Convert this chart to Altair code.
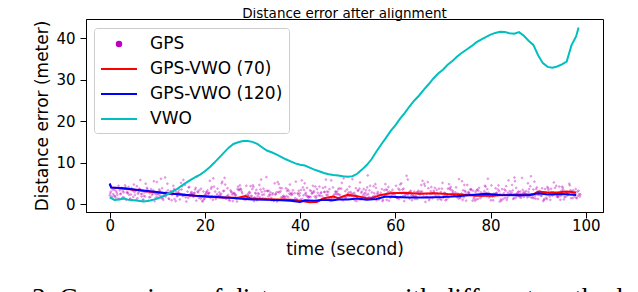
import altair as alt
import pandas as pd

# ---------------- data ----------------
series_names = ["GPS", "GPS-VWO (70)", "GPS-VWO (120)", "VWO"]
series_colors = ["#BF00BF", "#FF0000", "#0000FF", "#00BFBF"]
x_ticks = [0, 20, 40, 60, 80, 100]
y_ticks = [0, 10, 20, 30, 40]

vwo_t = [0, 1, 2, 3, 4, 5, 6, 7, 8, 9, 10, 11, 12, 13, 14, 15, 16, 17, 18, 19,
         20, 21, 22, 23, 24, 25, 26, 27, 28, 29, 30, 31, 32, 33, 34, 35, 36, 37, 38, 39,
         40, 41, 42, 43, 44, 45, 46, 47, 48, 49, 50, 51, 52, 53, 54, 55, 56, 57, 58, 59,
         60, 61, 62, 63, 64, 65, 66, 67, 68, 69, 70, 71, 72, 73, 74, 75, 76, 77, 78, 79,
         80, 81, 82, 83, 84, 85, 86, 87, 88, 89, 90, 91, 92, 93, 94, 95, 96, 97, 98, 98.5]
vwo_d = [1.6, 1.0, 1.1, 1.3, 1.0, 0.9, 0.8, 0.6, 0.7, 1.0, 1.3, 1.8, 2.3, 2.9, 3.5, 4.3, 5.1, 5.8, 6.5, 7.1,
         7.9, 8.9, 10.0, 11.2, 12.4, 13.6, 14.5, 14.9, 15.2, 15.2, 15.0, 14.5, 13.7, 12.9, 12.5, 12.0, 11.4, 10.8, 10.3, 9.8,
         9.5, 9.3, 8.8, 8.3, 7.9, 7.5, 7.2, 7.0, 6.9, 6.7, 6.6, 6.7, 7.3, 8.3, 9.4, 10.8, 12.6, 14.3, 15.9, 17.6,
         19.0, 20.6, 22.0, 23.6, 25.0, 26.2, 27.6, 28.9, 30.3, 31.5, 32.4, 33.6, 34.5, 35.6, 36.5, 37.3, 38.1, 39.0, 39.7, 40.3,
         40.9, 41.3, 41.6, 41.5, 41.2, 41.1, 41.5, 40.6, 39.4, 38.4, 35.9, 34.0, 33.1, 32.9, 33.2, 33.7, 34.4, 38.3, 40.5, 42.6]

blue_t = [0, 0.3, 3, 6, 9, 12, 15, 18, 21, 24, 27, 30, 33, 36, 38, 40, 41, 43, 45, 47,
          48, 50, 52, 54, 56, 58, 60, 63, 66, 70, 73, 76, 79, 82, 85, 88, 90, 92, 95, 98]
blue_d = [4.9, 4.0, 3.8, 3.4, 3.0, 2.6, 2.3, 2.0, 1.8, 1.6, 1.3, 1.1, 1.0, 0.9, 0.8, 0.5, 0.9, 0.8, 1.0, 0.9,
          1.1, 1.1, 1.3, 1.0, 1.2, 1.8, 1.7, 1.6, 1.6, 1.7, 1.9, 2.2, 2.5, 2.2, 2.1, 2.1, 2.6, 2.3, 2.4, 2.2]

red_t = [0, 0.3, 3, 6, 9, 12, 15, 18, 21, 24, 27, 28.5, 29.5, 32, 35, 38, 40, 42, 43.5, 45,
         47, 48, 50, 52, 54, 55, 57, 59, 62, 65, 68, 71, 74, 77, 80, 83, 86, 89, 90, 92, 94, 96, 98]
red_d = [4.9, 4.0, 3.7, 3.3, 2.9, 2.6, 2.3, 2.0, 1.7, 1.6, 1.5, 1.9, 1.4, 1.2, 1.1, 1.0, 0.8, 0.4, 0.5, 1.4,
         1.8, 1.4, 2.2, 1.9, 1.4, 1.4, 2.2, 2.6, 2.7, 2.5, 2.6, 2.4, 2.3, 2.0, 2.0, 2.2, 2.3, 2.3, 3.0, 2.8, 2.8, 3.0, 2.8]

gps_step = [i * 0.99 for i in range(100)]
gps_a = [2.1, 3.4, 1.2, 2.8, 4.1, 1.7, 2.5, 0.9, 3.6, 2.2, 5.3, 1.4, 2.9, 3.1, 0.7, 2.4, 4.6, 1.9, 2.7, 3.3,
         1.1, 2.6, 6.2, 2.0, 1.5, 3.8, 2.3, 0.6, 3.0, 4.4, 1.8, 2.5, 3.5, 1.3, 2.1, 5.0, 2.8, 1.6, 3.2, 0.8,
         2.4, 4.0, 1.9, 2.7, 3.6, 1.2, 2.2, 5.7, 2.9, 1.4, 3.1, 2.0, 0.9, 3.7, 2.5, 1.7, 4.3, 2.3, 1.0, 2.8,
         3.4, 1.5, 2.6, 6.8, 2.1, 1.8, 3.0, 0.5, 2.4, 3.9, 1.6, 2.7, 4.8, 2.2, 1.3, 3.3, 2.5, 0.8, 3.5, 2.0,
         1.9, 4.5, 2.6, 1.1, 3.2, 2.4, 5.5, 1.7, 2.9, 3.6, 1.4, 2.3, 0.7, 3.8, 2.1, 1.8, 4.2, 2.6, 3.1, 1.5]
gps_b = [3.0, 1.6, 2.4, 4.5, 1.1, 2.9, 3.7, 2.0, 0.8, 3.3, 2.6, 1.4, 4.9, 2.2, 1.9, 3.5, 0.6, 2.7, 3.9, 1.3,
         2.3, 5.6, 1.8, 2.8, 3.2, 1.0, 2.5, 4.2, 1.7, 2.1, 3.6, 0.9, 2.9, 6.5, 1.5, 2.4, 3.1, 1.2, 4.7, 2.6,
         2.0, 3.4, 1.6, 2.8, 0.7, 3.9, 2.2, 1.4, 3.0, 5.1, 1.8, 2.5, 3.8, 1.1, 2.7, 4.4, 2.0, 1.5, 3.3, 0.8,
         2.6, 3.7, 1.9, 5.9, 2.3, 1.2, 3.0, 2.4, 4.1, 1.7, 2.9, 0.9, 3.5, 2.1, 1.6, 4.6, 2.7, 1.3, 3.2, 2.5,
         6.1, 1.8, 2.2, 3.6, 1.0, 2.8, 3.9, 1.5, 2.4, 4.3, 2.0, 3.1, 1.2, 2.6, 5.2, 1.9, 3.4, 2.3, 1.4, 3.0]
gps_c = [1.5, 2.7, 3.9, 1.0, 2.3, 3.2, 5.8, 1.8, 2.6, 0.7, 3.5, 2.1, 1.3, 4.4, 2.8, 1.9, 3.0, 2.4, 6.6, 1.6,
         2.9, 3.7, 1.2, 2.2, 4.7, 0.8, 2.5, 3.4, 1.7, 2.0, 4.1, 2.6, 1.4, 3.1, 2.3, 0.6, 3.8, 1.9, 2.7, 5.4,
         1.1, 2.4, 3.3, 1.8, 4.2, 2.9, 1.5, 2.1, 3.6, 0.9, 2.5, 6.0, 1.7, 3.0, 2.2, 1.3, 3.9, 2.7, 4.8, 1.6,
         2.0, 3.4, 0.7, 2.8, 1.9, 3.2, 2.4, 5.3, 1.4, 2.6, 3.7, 1.1, 2.3, 4.0, 1.8, 2.9, 3.5, 0.8, 2.1, 3.1,
         1.6, 2.5, 4.5, 1.2, 2.7, 3.3, 1.9, 6.3, 2.2, 1.5, 3.6, 2.0, 2.8, 1.0, 3.9, 2.4, 1.7, 4.9, 2.6, 3.2]
gps_d = [2.4, 1.3, 3.1, 2.6, 0.9, 4.3, 1.8, 2.9, 3.6, 1.5, 2.0, 6.4, 2.5, 1.2, 3.4, 2.1, 4.0, 1.7, 2.8, 0.6,
         3.3, 1.9, 2.4, 5.0, 1.4, 3.0, 2.2, 3.7, 1.0, 2.7, 1.6, 4.6, 2.3, 3.2, 0.8, 2.9, 1.8, 3.5, 2.5, 1.1,
         5.7, 2.0, 3.1, 1.5, 2.6, 4.1, 0.7, 2.4, 3.8, 1.9, 2.8, 1.3, 3.3, 2.1, 6.9, 1.6, 2.5, 3.6, 1.0, 2.9,
         4.4, 1.7, 2.3, 3.0, 1.2, 2.7, 4.9, 0.9, 3.2, 2.0, 1.5, 3.7, 2.6, 1.8, 5.5, 2.2, 3.4, 1.1, 2.8, 4.2,
         1.9, 2.4, 0.6, 3.5, 2.1, 1.4, 3.0, 2.7, 5.0, 1.6, 2.3, 3.8, 1.2, 2.9, 4.4, 2.0, 1.7, 3.3, 2.5, 1.8]
gps_e = [2.6, 1.9, 3.3, 1.4, 2.2, 4.7, 2.8, 1.1, 3.0, 2.5, 1.7, 3.8, 2.3, 0.9, 2.9, 5.1, 1.6, 2.4, 3.5, 2.0,
         1.3, 2.7, 4.2, 1.8, 3.1, 2.2, 0.7, 3.6, 2.6, 1.5, 2.0, 3.4, 5.9, 1.2, 2.8, 2.3, 3.9, 1.7, 2.5, 1.0,
         3.2, 2.1, 1.6, 4.4, 2.7, 1.9, 3.0, 0.8, 2.4, 3.7, 1.4, 2.9, 2.2, 5.2, 1.8, 3.3, 2.6, 1.1, 2.0, 4.1,
         2.5, 1.5, 3.5, 2.3, 0.9, 2.8, 4.6, 1.7, 3.1, 2.1, 1.3, 2.6, 3.8, 2.0, 6.0, 1.6, 2.9, 3.2, 1.2, 2.4,
         3.6, 1.9, 2.7, 0.8, 4.3, 2.2, 1.5, 3.0, 2.5, 1.8, 5.4, 2.3, 1.0, 3.4, 2.8, 1.6, 3.9, 2.1, 2.6, 1.4]
gps_f = [1.8, 3.1, 2.5, 4.0, 1.3, 2.2, 3.6, 2.8, 1.6, 5.5, 2.3, 1.0, 3.3, 2.6, 1.9, 4.3, 2.1, 2.9, 0.8, 3.7,
         2.4, 1.5, 3.0, 2.0, 6.3, 1.7, 2.7, 3.4, 1.2, 2.5, 4.5, 1.9, 2.2, 3.2, 0.9, 2.8, 1.6, 3.8, 2.3, 1.4,
         2.6, 5.0, 1.8, 3.1, 2.1, 1.1, 2.9, 4.0, 2.4, 1.7, 3.5, 2.0, 0.7, 2.7, 3.3, 1.5, 4.8, 2.2, 1.9, 3.0,
         2.5, 1.2, 3.7, 2.3, 1.8, 2.9, 5.6, 1.6, 2.6, 3.4, 1.0, 2.1, 4.1, 2.8, 1.4, 3.2, 2.4, 1.7, 3.9, 2.0,
         2.7, 0.9, 3.5, 2.2, 1.5, 4.6, 2.5, 1.9, 3.1, 6.7, 1.3, 2.8, 3.6, 1.8, 2.3, 4.2, 1.1, 2.6, 3.3, 2.0]
gps_g = [3.5, 2.2, 1.4, 2.9, 3.8, 1.0, 2.4, 4.9, 1.7, 2.6, 3.2, 2.0, 1.2, 3.6, 2.7, 5.8, 1.5, 2.3, 3.0, 0.8,
         2.8, 4.1, 1.9, 2.5, 1.3, 3.3, 2.1, 4.5, 1.6, 2.9, 0.7, 2.4, 3.7, 1.8, 2.6, 5.3, 1.4, 3.1, 2.2, 1.0,
         3.4, 2.7, 1.7, 4.2, 2.0, 2.9, 3.6, 1.2, 2.3, 6.2, 1.9, 2.5, 3.2, 1.5, 4.0, 2.8, 0.9, 2.1, 3.5, 1.6,
         2.6, 4.7, 2.0, 1.3, 3.0, 2.4, 1.8, 3.8, 2.7, 1.1, 5.1, 2.2, 3.3, 1.7, 2.5, 0.8, 3.6, 2.9, 1.4, 4.4,
         2.1, 1.9, 3.1, 2.6, 5.7, 1.2, 2.8, 3.4, 1.6, 2.3, 4.0, 2.0, 1.5, 3.7, 2.5, 1.0, 2.9, 4.5, 1.8, 2.4]
gps_h = [2.0, 4.4, 1.7, 2.7, 3.2, 1.4, 2.5, 3.9, 0.9, 2.3, 6.1, 1.8, 2.9, 3.4, 1.1, 2.2, 4.1, 2.6, 1.5, 3.0,
         2.4, 1.0, 3.7, 5.4, 1.9, 2.8, 1.3, 3.5, 2.1, 4.3, 2.7, 1.6, 3.1, 2.3, 0.8, 4.8, 2.0, 1.7, 3.3, 2.6,
         1.2, 3.9, 2.5, 1.9, 2.8, 5.9, 1.4, 3.0, 2.2, 1.6, 4.2, 2.7, 1.1, 3.6, 2.4, 1.8, 2.9, 0.7, 3.4, 2.1,
         1.5, 5.0, 2.6, 3.2, 1.9, 2.3, 4.4, 1.3, 2.8, 3.7, 2.0, 1.6, 3.0, 2.5, 1.0, 4.6, 2.2, 3.3, 1.8, 2.7,
         0.9, 3.8, 2.4, 1.5, 3.1, 6.4, 2.0, 1.7, 2.9, 3.5, 1.2, 2.6, 4.1, 2.1, 1.9, 3.2, 2.7, 1.4, 3.6, 2.3]
gps_lists = [gps_a, gps_e, gps_b, gps_f, gps_c, gps_g, gps_d, gps_h]
gps_offsets = [0.0, 0.125, 0.25, 0.375, 0.5, 0.625, 0.75, 0.875]

title_text = "Distance error after alignment"
x_title = "time (second)"
y_title = "Distance error (meter)"
caption_text = "3. Comparison of distance error with different methods"

# ---------------- tables ----------------
gps_rows = []
for off, vals in zip(gps_offsets, gps_lists):
    for t, d in zip(gps_step, vals):
        gps_rows.append({"t": t + off, "d": d, "series": "GPS"})
gps_df = pd.DataFrame(gps_rows)
red_df = pd.DataFrame({"t": red_t, "d": red_d, "series": "GPS-VWO (70)"})
blue_df = pd.DataFrame({"t": blue_t, "d": blue_d, "series": "GPS-VWO (120)"})
vwo_df = pd.DataFrame({"t": vwo_t, "d": vwo_d, "series": "VWO"})

FONT = "DejaVu Sans"
DOT = "M0.25,0A0.25,0.25,0,1,1,-0.25,0A0.25,0.25,0,1,1,0.25,0ZM-0.25,0H0.25M0,-0.25V0.25"
LINE = "M-2,0H2"
series_shapes = [DOT, LINE, LINE, LINE]

xs = alt.Scale(domain=[-4.98, 103.63], nice=False, zero=False)
ys = alt.Scale(domain=[-1.93, 44.66], nice=False, zero=False)
cs = alt.Scale(domain=series_names, range=series_colors)
ss = alt.Scale(domain=series_names, range=series_shapes)

x_axis = alt.Axis(values=x_ticks, title=x_title, labelPadding=0, titlePadding=8)
y_axis = alt.Axis(values=y_ticks, title=y_title, labelPadding=5, titlePadding=4)

legend = alt.Legend(
    title=None, orient="none", legendX=8, legendY=9,
    symbolSize=324, symbolStrokeWidth=2, symbolOffset=9, labelOffset=21,
    symbolOpacity=1,
    labelFont=FONT, labelFontSize=17, labelColor="black",
    rowPadding=7, padding=6,
    strokeColor="#cccccc", fillColor="white", cornerRadius=3,
)

color_enc = alt.Color("series:N", scale=cs, legend=legend)
shape_enc = alt.Shape("series:N", scale=ss, legend=legend)

gps_layer = alt.Chart(gps_df).mark_point(filled=False, size=50, strokeWidth=1, opacity=0.4).encode(
    x=alt.X("t:Q", scale=xs, axis=x_axis),
    y=alt.Y("d:Q", scale=ys, axis=y_axis),
    color=color_enc,
    shape=shape_enc,
)

def line_layer(df):
    return alt.Chart(df).mark_line(strokeWidth=2).encode(
        x=alt.X("t:Q", scale=xs),
        y=alt.Y("d:Q", scale=ys),
        color=color_enc,
        order="t:Q",
    )

title_mark = alt.Chart(pd.DataFrame({"c": [title_text]})).mark_text(
    font=FONT, fontSize=13.5, align="center", baseline="alphabetic", color="black"
).encode(text="c:N", x=alt.value(258.5), y=alt.value(-1.2))

caption = alt.Chart(pd.DataFrame({"c": [caption_text]})).mark_text(
    font="Liberation Serif", fontSize=27.3, align="left", baseline="alphabetic", color="black"
).encode(text="c:N", x=alt.value(-54), y=alt.value(288))

chart = alt.layer(
    gps_layer, line_layer(red_df), line_layer(blue_df), line_layer(vwo_df), title_mark, caption
).properties(
    width=517, height=193,
    autosize=alt.AutoSizeParams(type="none"),
    padding={"left": 78, "top": 11, "right": 27, "bottom": 80},
).configure_axis(
    labelFont=FONT, titleFont=FONT, labelFontSize=15, titleFontSize=17,
    titleFontWeight="normal", labelColor="black", titleColor="black",
    domainColor="black", tickColor="black", tickSize=6, grid=False, domainWidth=1,
).configure_view(stroke="black", strokeWidth=1)

chart.save("out.html", embed_options={"renderer": "svg", "actions": False})
